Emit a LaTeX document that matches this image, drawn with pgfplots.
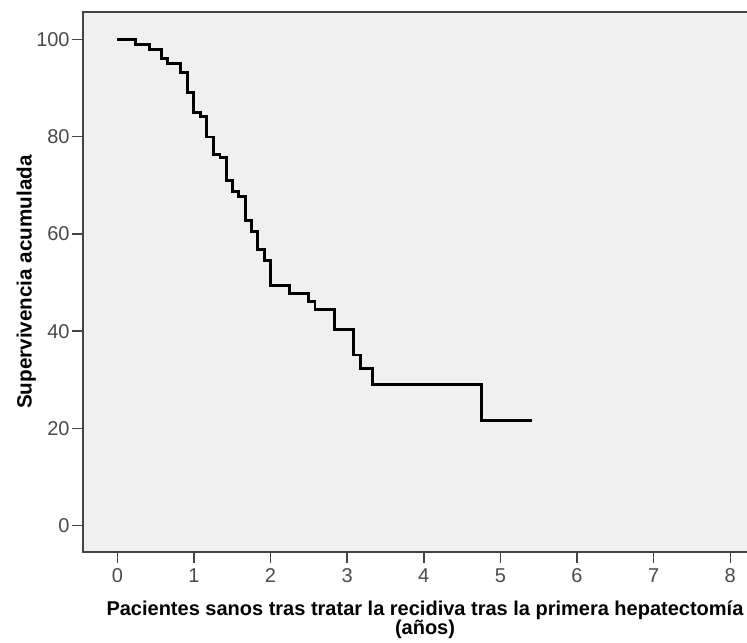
\documentclass[border=0pt]{standalone}
\usepackage{fontspec}
\setmainfont{Liberation Sans}
\usepackage{pgfplots}
\pgfplotsset{compat=1.18}
\definecolor{bgc}{HTML}{F0F0F0}
\definecolor{framec}{HTML}{444444}
\definecolor{tickc}{HTML}{4A4A4A}
\begin{document}
\begin{tikzpicture}[x=0.75pt,y=0.75pt]
\begin{axis}[
  scale only axis,
  width=513pt, height=405pt,
  at={(62.25pt,68.25pt)}, anchor=south west,
  xmin=-0.448, xmax=8.48,
  ymin=-5.4, ymax=105.6,
  xtick={0,1,...,8}, ytick={0,20,...,100},
  tick align=outside, tick pos=left,
  major tick length=8pt,
  every tick/.style={framec, line width=1.1pt},
  axis line style={framec, line width=1.1pt},
  axis background/.style={fill=bgc},
  xticklabel={\fontsize{15}{16}\selectfont\color{tickc}\pgfmathprintnumber{\tick}},
  yticklabel={\fontsize{15}{16}\selectfont\color{tickc}\pgfmathprintnumber{\tick}},
  /pgf/number format/assume math mode=true,
  xticklabel style={yshift=-1pt},
  yticklabel style={xshift=1.5pt},
  xlabel={Pacientes sanos tras tratar la recidiva tras la primera hepatectomía\\(años)},
  xlabel style={font=\fontsize{15}{14}\selectfont\bfseries, align=center,
    at={(axis description cs:0.5,0)}, anchor=north, yshift=-33pt},
  ylabel={Supervivencia acumulada},
  ylabel style={font=\fontsize{15.5}{15}\selectfont\bfseries,
    at={(axis description cs:-0.062,0.5)}, anchor=south},
  clip=true,
]
\addplot[const plot, black, line width=2.2pt] coordinates {
(0,100) (0.24,99.0) (0.42,97.9) (0.58,96.0) (0.66,95.1) (0.83,93.1) (0.91,89.1)
(1.00,85.0) (1.08,84.1) (1.17,79.9) (1.25,76.4) (1.34,75.7) (1.42,70.9) (1.50,68.7)
(1.58,67.6) (1.67,62.7) (1.75,60.4) (1.83,56.7) (1.92,54.5) (2.00,49.3) (2.25,47.8)
(2.50,46.1) (2.58,44.4) (2.83,40.4) (3.08,35.1) (3.17,32.4) (3.33,29.0) (4.75,21.7)
(5.41,21.7)
};
\end{axis}
\pgfresetboundingbox
\useasboundingbox (0,0) rectangle (747,643);
\end{tikzpicture}
\end{document}
